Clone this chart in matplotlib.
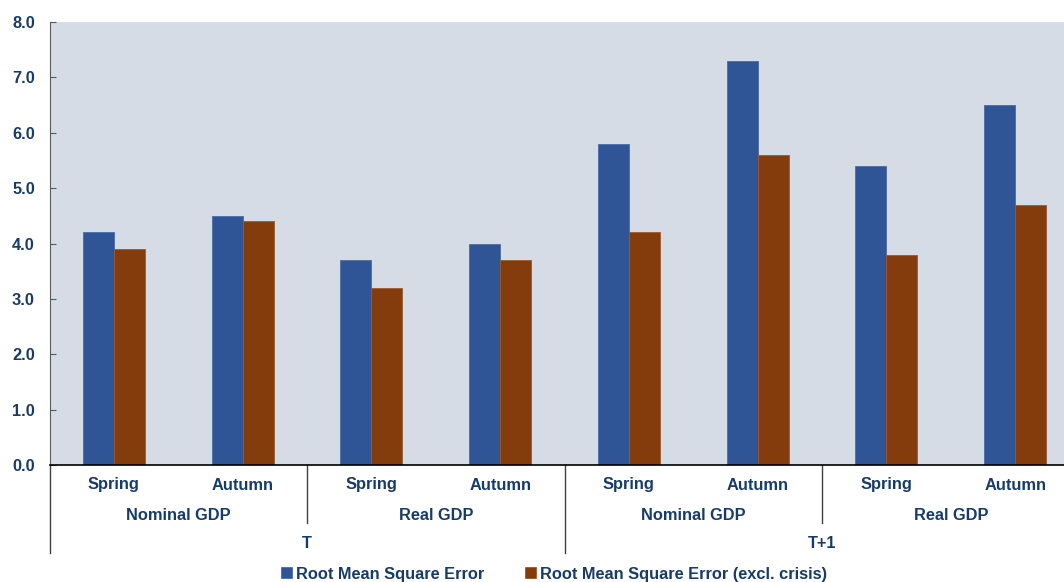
import matplotlib.pyplot as plt
import matplotlib.transforms as mtransforms
import numpy as np

plt.rcParams['font.family'] = ['Liberation Sans', 'DejaVu Sans']
plt.rcParams['font.weight'] = 'bold'

seasons = ["Spring", "Autumn"] * 4
variables = ["Nominal GDP", "Real GDP", "Nominal GDP", "Real GDP"]
horizons = ["T", "T+1"]
rmse = [4.2, 4.5, 3.7, 4.0, 5.8, 7.3, 5.4, 6.5]
rmse_excl = [3.9, 4.4, 3.2, 3.7, 4.2, 5.6, 3.8, 4.7]
series_names = ["Root Mean Square Error", "Root Mean Square Error (excl. crisis)"]

blue = "#2F5597"
brown = "#843C0C"
bg = "#D6DCE5"
txt = "#173B6A"
fs = 11.8

W, H = 1064, 582
fig = plt.figure(figsize=(W / 100, H / 100), dpi=100)
left, right, top, bottom = 49.5, 1079.5, 22, 465
ax = fig.add_axes([left / W, 1 - bottom / H, (right - left) / W, (bottom - top) / H])
ax.set_facecolor(bg)

x = np.arange(len(rmse))
w = 0.24
b1 = ax.bar(x - w / 2, rmse, w, color=blue, edgecolor="#4a6aa8", linewidth=0.6, label=series_names[0])
b2 = ax.bar(x + w / 2, rmse_excl, w, color=brown, edgecolor="#9a5a30", linewidth=0.6, label=series_names[1])

ax.set_xlim(-0.5, len(rmse) - 0.5)
ax.set_ylim(0, 8)
ax.set_yticks(np.arange(0, 8.1, 1))
ax.set_yticklabels([f"{v:.1f}" for v in np.arange(0, 8.1, 1)])
ax.tick_params(axis='y', direction='in', length=4, color="#595959", pad=10.5,
               labelsize=fs, labelcolor=txt)
ax.set_xticks([])
for s in ["top", "right"]:
    ax.spines[s].set_visible(False)
ax.spines["left"].set_color("#595959")
ax.spines["bottom"].set_color("black")
ax.spines["bottom"].set_linewidth(1.2)

trans = mtransforms.blended_transform_factory(ax.transData, ax.transAxes)
ah = bottom - top
def ay(py):
    return (bottom - py) / ah

# level 1: season labels
for i, s in enumerate(seasons):
    ax.text(x[i], ay(485), s, transform=trans, ha='center', va='center',
            fontsize=fs, color=txt, fontweight='bold')
# level 2: variable labels
for j, v in enumerate(variables):
    ax.text(2 * j + 0.5, ay(515), v, transform=trans, ha='center', va='center',
            fontsize=fs, color=txt, fontweight='bold')
# level 3: horizon labels
for k, h in enumerate(horizons):
    ax.text(4 * k + 1.5, ay(543), h, transform=trans, ha='center', va='center',
            fontsize=fs, color=txt, fontweight='bold')

# separator lines
for j in range(5):
    xs = 2 * j - 0.5
    ybot = ay(553) if j % 2 == 0 else ay(523)
    ax.plot([xs, xs], [0, ybot], transform=trans, color="#404040", lw=1, clip_on=False)

leg = fig.legend(handles=[b1, b2], loc='center', bbox_to_anchor=(554 / W, 1 - 574 / H),
                 ncol=2, frameon=False, handlelength=0.65, handleheight=0.65,
                 handletextpad=0.25, columnspacing=2.5, fontsize=fs)
for t in leg.get_texts():
    t.set_color(txt)
    t.set_fontweight('bold')

fig.savefig("out.png", dpi=100)
